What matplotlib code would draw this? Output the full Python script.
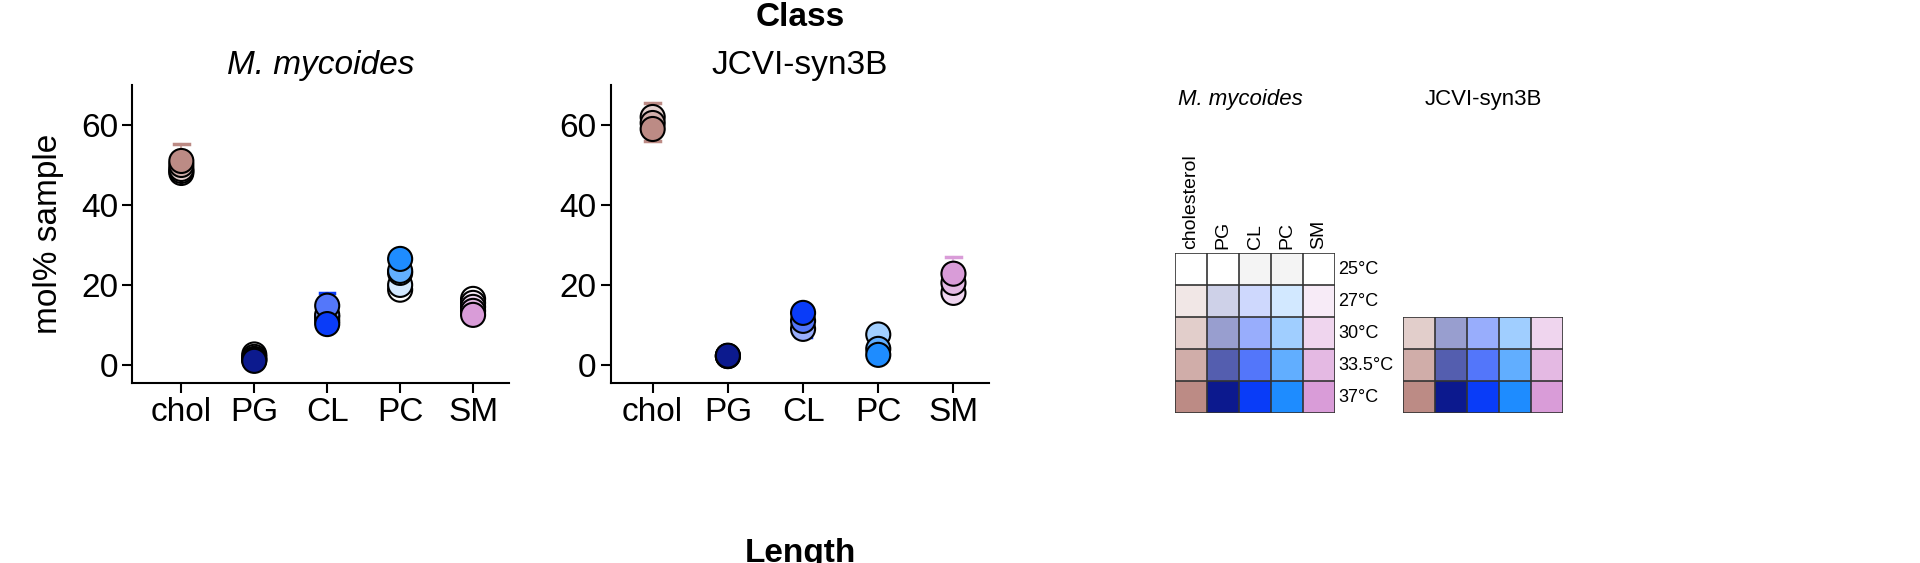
import numpy as np
import matplotlib.pyplot as plt
from matplotlib.colors import to_rgb

plt.rcParams['font.family'] = 'Liberation Sans'

classes = ['chol', 'PG', 'CL', 'PC', 'SM']
heat_cols = ['cholesterol', 'PG', 'CL', 'PC', 'SM']
full_colors = ['#BC8B85', '#0C1A8E', '#0A3CF8', '#1E8CFF', '#D99CD8']

mm_temps = ['25°C', '27°C', '30°C', '33.5°C', '37°C']
mm_shade = [0.0, 0.2, 0.42, 0.7, 1.0]
syn_temps = ['30°C', '33.5°C', '37°C']
syn_shade = [0.42, 0.7, 1.0]

# mol% sample, rows = temperature, cols = class
mm_vals = [[48.0, 2.6, 11.0, 18.8, 16.5],
           [48.5, 2.0, 12.0, 20.0, 15.5],
           [49.0, 1.5, 12.5, 23.0, 14.5],
           [50.0, 1.2, 14.8, 23.5, 13.5],
           [51.0, 1.0, 10.2, 26.5, 12.5]]
mm_err_top = [55.2, 3.0, 18.0, 28.0, 17.0]

syn_vals = [[62.0, 2.2, 9.0, 7.6, 18.0],
            [60.5, 2.2, 11.0, 4.0, 20.5],
            [59.0, 2.3, 13.0, 2.5, 22.8]]
syn_err_top = [65.5, 2.8, 13.5, 8.0, 27.0]
syn_err_bot = [56.0, 1.8, 7.0, 2.0, 17.5]


def shade(c, f):
    c = np.array(to_rgb(c))
    return tuple(1 - f * (1 - c))


fig = plt.figure(figsize=(19.2, 5.63), dpi=100)


def dot_panel(rect, vals, shades, err_top, err_bot, xlim, title, italic):
    ax = fig.add_axes(rect)
    x = np.arange(len(classes))
    for j in range(len(classes)):
        col = vals[-1][j]
        mean = np.mean([r[j] for r in vals])
        ax.plot([j, j], [mean, err_top[j]], color=full_colors[j], lw=1.5, alpha=0.7, zorder=1)
        ax.plot([j - 0.1, j + 0.1], [err_top[j]] * 2, color=full_colors[j], lw=2.5, zorder=1)
        if err_bot is not None:
            ax.plot([j, j], [mean, err_bot[j]], color=full_colors[j], lw=1.5, alpha=0.7, zorder=1)
            ax.plot([j - 0.1, j + 0.1], [err_bot[j]] * 2, color=full_colors[j], lw=2.5, zorder=1)
    for i, row in enumerate(vals):
        cols = [shade(full_colors[j], shades[i]) for j in range(len(classes))]
        ax.scatter(x, row, s=300, c=cols, edgecolors='black', linewidths=1.5, zorder=2 + i)
    ax.set_xticks(x)
    ax.set_xticklabels(classes)
    ax.set_yticks([0, 20, 40, 60])
    ax.set_xlim(*xlim)
    ax.set_ylim(-4.5, 70)
    ax.spines[['top', 'right']].set_visible(False)
    ax.spines[['left', 'bottom']].set_linewidth(1.5)
    ax.tick_params(labelsize=24, width=1.5, length=7)
    ax.set_title(title, fontsize=24, style='italic' if italic else 'normal', pad=8)
    return ax


ax1 = dot_panel([0.069, 0.320, 0.196, 0.529], mm_vals, mm_shade, mm_err_top, None,
                (-0.67, 4.49), 'M. mycoides', True)
ax1.set_ylabel('mol% sample', fontsize=24, labelpad=12)
ax2 = dot_panel([0.318, 0.320, 0.197, 0.529], syn_vals, syn_shade, syn_err_top, syn_err_bot,
                (-0.56, 4.47), 'JCVI-syn3B', False)


def heat_panel(rect, shades, temps, labels_top, label_temps):
    ax = fig.add_axes(rect)
    img = np.array([[shade(c, f) for c in full_colors] for f in shades])
    if labels_top:
        img[0, 2] = (0.96, 0.96, 0.96)
        img[0, 3] = (0.96, 0.96, 0.96)
    ax.imshow(img, aspect='auto', extent=(0, 5, len(shades), 0))
    for k in range(6):
        ax.axvline(k, color='#333333', lw=1.2)
    for k in range(len(shades) + 1):
        ax.axhline(k, color='#333333', lw=1.2)
    ax.set_xlim(0, 5)
    ax.set_ylim(len(shades), 0)
    ax.set_xticks([])
    ax.set_yticks([])
    for s in ax.spines.values():
        s.set_visible(False)
    if labels_top:
        for j, lab in enumerate(heat_cols):
            ax.text(j + 0.5, -0.12, lab, rotation=90, ha='center', va='bottom', fontsize=14)
    if label_temps:
        for i, t in enumerate(temps):
            ax.text(5.1, i + 0.5, t, ha='left', va='center', fontsize=13)
    return ax


heat_panel([0.612, 0.2664, 0.0833, 0.284], mm_shade, mm_temps, True, True)
heat_panel([0.7307, 0.2664, 0.0833, 0.1705], syn_shade, syn_temps, False, False)

fig.text(1240 / 1920, 1 - 100 / 563, 'M. mycoides', ha='center', va='center', fontsize=16, style='italic')
fig.text(1483 / 1920, 1 - 100 / 563, 'JCVI-syn3B', ha='center', va='center', fontsize=16)
fig.text(800 / 1920, 1 - 18 / 563, 'Class', ha='center', va='center', fontsize=24, weight='bold')
fig.text(800 / 1920, 1 - 538 / 563, 'Length', ha='center', va='top', fontsize=24, weight='bold')

fig.savefig('out.png', dpi=100)
